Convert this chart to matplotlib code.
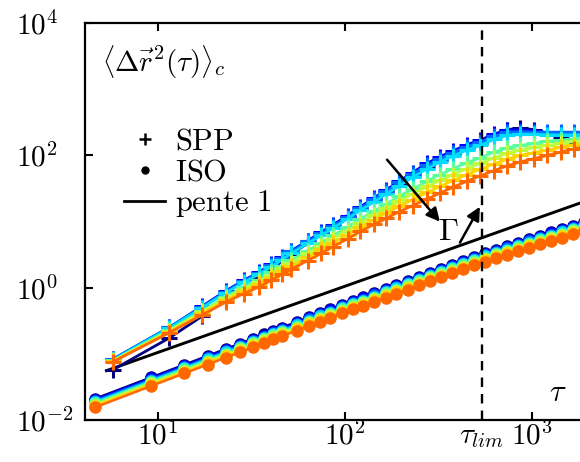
import matplotlib
matplotlib.use('Agg')
import matplotlib.pyplot as plt
import numpy as np
from matplotlib.lines import Line2D
from matplotlib.ticker import NullLocator

plt.rcParams['mathtext.fontset'] = 'cm'
plt.rcParams['font.family'] = ['DejaVu Serif']

# ---------------- data ----------------
tau_spp = [5.75, 11.5, 17.25, 23.0, 28.75, 34.5, 40.25, 46.0, 51.75, 63.25, 74.75,
           86.25, 103.5, 120.75, 143.75, 166.75, 195.5, 230.0, 276.0, 322.0, 379.5,
           448.5, 529.0, 626.75, 736.0, 868.25, 1023.5, 1207.5, 1426.0, 1684.75, 1983.75]

spp_g1 = [0.0575, 0.174, 0.372, 0.661, 1.00, 1.38, 1.91, 2.51, 3.24, 4.68, 6.46, 8.32, 11.5,
          15.1, 20.9, 27.5, 36.3, 49.0, 67.6, 85.1, 105, 129, 151, 204, 245, 257, 245, 214,
          186, 158, 145]
spp_g2 = [0.0832, 0.251, 0.525, 0.891, 1.29, 1.70, 2.24, 2.88, 3.63, 5.13, 6.92, 8.91, 12.3,
          16.6, 22.9, 30.2, 40.7, 55.0, 75.9, 95.5, 117, 145, 170, 209, 240, 245, 234, 219,
          209, 200, 195]
spp_g3 = [0.0832, 0.251, 0.513, 0.871, 1.26, 1.66, 2.19, 2.82, 3.55, 5.01, 6.61, 8.51, 11.7,
          15.8, 21.9, 28.8, 38.9, 52.5, 70.8, 89.1, 110, 135, 158, 195, 224, 229, 224, 224,
          224, 224, 224]
spp_g4 = [0.0813, 0.245, 0.501, 0.832, 1.20, 1.59, 2.04, 2.63, 3.31, 4.68, 6.17, 7.94, 11.0,
          14.8, 20.0, 26.3, 34.7, 46.8, 63.1, 79.4, 97.7, 120, 141, 174, 200, 209, 209, 204,
          204, 204, 204]
spp_g5 = [0.0794, 0.229, 0.447, 0.724, 1.02, 1.32, 1.70, 2.14, 2.63, 3.63, 4.79, 6.17, 8.32,
          11.0, 14.5, 18.6, 24.0, 30.9, 40.7, 51.3, 63.1, 77.6, 91.2, 112, 129, 141, 151, 162,
          170, 178, 186]
spp_g6 = [0.0776, 0.224, 0.437, 0.692, 0.955, 1.23, 1.55, 1.95, 2.40, 3.31, 4.27, 5.50, 7.24,
          9.55, 12.6, 15.8, 20.4, 26.3, 33.9, 41.7, 51.3, 63.1, 75.9, 91.2, 107, 120, 132, 141,
          151, 162, 170]
spp_g7 = [0.0776, 0.214, 0.407, 0.646, 0.891, 1.12, 1.41, 1.78, 2.14, 2.88, 3.80, 4.79, 6.31,
          8.32, 10.7, 13.5, 17.0, 21.4, 27.5, 33.9, 41.7, 51.3, 61.7, 74.1, 87.1, 100, 110, 120,
          132, 145, 155]
spp_g8 = [0.0759, 0.209, 0.389, 0.603, 0.813, 1.02, 1.29, 1.59, 1.91, 2.57, 3.31, 4.17, 5.50,
          7.08, 9.12, 11.2, 14.1, 17.4, 21.9, 26.9, 33.1, 40.7, 49.0, 58.9, 69.2, 79.4, 89.1,
          100, 112, 126, 138]

tau_iso = [4.6, 9.2, 13.8, 18.4, 23.0, 27.6, 32.2, 36.8, 41.4, 46.0, 55.2, 64.4, 73.6, 82.8,
           96.6, 110.4, 124.2, 142.6, 165.6, 188.6, 216.2, 248.4, 285.2, 326.6, 372.6, 427.8,
           492.2, 561.2, 644.0, 736.0, 841.8, 966.0, 1108.6, 1269.6, 1453.6, 1665.2, 1904.4,
           2185.0]

iso_g1 = [0.0209, 0.0441, 0.0682, 0.0930, 0.118, 0.143, 0.170, 0.196, 0.223, 0.250, 0.302,
          0.358, 0.413, 0.470, 0.551, 0.632, 0.713, 0.824, 0.959, 1.10, 1.26, 1.46, 1.69, 1.93,
          2.21, 2.55, 2.94, 3.33, 3.77, 4.24, 4.77, 5.39, 6.09, 6.86, 7.72, 8.69, 9.77, 11.0]
iso_g2 = [0.0202, 0.0425, 0.0657, 0.0896, 0.114, 0.138, 0.164, 0.189, 0.215, 0.241, 0.291,
          0.345, 0.398, 0.452, 0.530, 0.608, 0.686, 0.793, 0.923, 1.06, 1.22, 1.40, 1.63, 1.86,
          2.13, 2.46, 2.83, 3.21, 3.63, 4.08, 4.59, 5.19, 5.86, 6.60, 7.44, 8.37, 9.41, 10.6]
iso_g3 = [0.0194, 0.0409, 0.0631, 0.0861, 0.109, 0.133, 0.158, 0.181, 0.206, 0.231, 0.280,
          0.331, 0.383, 0.435, 0.510, 0.585, 0.660, 0.763, 0.888, 1.02, 1.17, 1.35, 1.56, 1.79,
          2.05, 2.36, 2.73, 3.09, 3.49, 3.93, 4.41, 4.99, 5.64, 6.35, 7.15, 8.05, 9.05, 10.2]
iso_g4 = [0.0186, 0.0392, 0.0606, 0.0827, 0.105, 0.127, 0.151, 0.174, 0.198, 0.222, 0.269,
          0.318, 0.367, 0.418, 0.490, 0.562, 0.634, 0.732, 0.852, 0.976, 1.12, 1.30, 1.50, 1.72,
          1.97, 2.27, 2.62, 2.96, 3.35, 3.77, 4.24, 4.79, 5.41, 6.10, 6.86, 7.73, 8.69, 9.80]
iso_g5 = [0.0178, 0.0376, 0.0581, 0.0792, 0.101, 0.122, 0.145, 0.167, 0.190, 0.213, 0.258,
          0.305, 0.352, 0.400, 0.469, 0.538, 0.607, 0.702, 0.817, 0.935, 1.08, 1.24, 1.44, 1.64,
          1.89, 2.17, 2.51, 2.84, 3.21, 3.61, 4.06, 4.59, 5.19, 5.84, 6.58, 7.41, 8.33, 9.40]
iso_g6 = [0.0171, 0.0360, 0.0556, 0.0758, 0.0963, 0.117, 0.139, 0.160, 0.182, 0.204, 0.246,
          0.292, 0.337, 0.383, 0.449, 0.515, 0.581, 0.671, 0.781, 0.894, 1.03, 1.19, 1.38, 1.57,
          1.80, 2.08, 2.40, 2.72, 3.07, 3.45, 3.88, 4.39, 4.96, 5.59, 6.29, 7.08, 7.96, 8.99]
iso_g7 = [0.0163, 0.0343, 0.0530, 0.0723, 0.0919, 0.111, 0.132, 0.152, 0.173, 0.194, 0.235,
          0.278, 0.321, 0.365, 0.428, 0.491, 0.554, 0.641, 0.746, 0.854, 0.982, 1.13, 1.31, 1.50,
          1.72, 1.98, 2.29, 2.59, 2.93, 3.30, 3.71, 4.19, 4.74, 5.33, 6.01, 6.76, 7.60, 8.58]
iso_g8 = [0.0155, 0.0327, 0.0505, 0.0689, 0.0875, 0.106, 0.126, 0.145, 0.165, 0.185, 0.224,
          0.265, 0.306, 0.348, 0.408, 0.468, 0.528, 0.610, 0.710, 0.813, 0.935, 1.08, 1.25, 1.43,
          1.64, 1.89, 2.18, 2.47, 2.79, 3.14, 3.53, 3.99, 4.51, 5.08, 5.72, 6.44, 7.24, 8.17]

pente_x = [5.3, 2000.0]
pente_y = [0.0557, 21.0]

tau_lim = 540.0

xtick_vals = [10, 100, 1000]
xtick_labels = [r'$10^{1}$', r'$10^{2}$', r'$10^{3}$']
ytick_vals = [1e-2, 1e0, 1e2, 1e4]
ytick_labels = [r'$10^{-2}$', r'$10^{0}$', r'$10^{2}$', r'$10^{4}$']

legend_labels = [r'$\mathrm{SPP}$', r'$\mathrm{ISO}$', r'$\mathrm{pente\ 1}$']

# ---------------- figure ----------------
W, H = 580, 462
fig = plt.figure(figsize=(W / 100, H / 100), dpi=100)
ax = fig.add_axes([85 / W, (H - 420) / H, 503 / W, 397 / H])
ax.set_xscale('log')
ax.set_yscale('log')

colors = plt.cm.jet(np.linspace(0.0, 0.8, 8))

iso_series = [iso_g1, iso_g2, iso_g3, iso_g4, iso_g5, iso_g6, iso_g7, iso_g8]
spp_series = [spp_g1, spp_g2, spp_g3, spp_g4, spp_g5, spp_g6, spp_g7, spp_g8]

for c, ys in zip(colors, iso_series):
    ax.plot(tau_iso, ys, '-', marker='o', color=c, lw=1.8, ms=8, mec=c, mfc=c)

ax.plot(pente_x, pente_y, '-', color='k', lw=2.1)

for c, ys in zip(colors, spp_series):
    ax.plot(tau_spp, ys, '-', marker='+', color=c, lw=2.0, ms=11, mew=2.2)

ax.axvline(tau_lim, color='k', lw=1.7, ls=(0, (4, 3)))

ax.set_xlim(4.07, 1995)
ax.set_ylim(1e-2, 1e4)

ax.set_xticks(xtick_vals)
ax.set_xticklabels(xtick_labels)
ax.set_yticks(ytick_vals)
ax.set_yticklabels(ytick_labels)
ax.xaxis.set_minor_locator(NullLocator())
ax.yaxis.set_minor_locator(NullLocator())
ax.tick_params(which='major', direction='in', length=6, width=1.5,
               top=True, right=True, labelsize=21, colors='k')
ax.tick_params(axis='x', pad=1)
ax.tick_params(axis='y', pad=50)
for lab in ax.get_yticklabels():
    lab.set_horizontalalignment('left')

for s in ax.spines.values():
    s.set_linewidth(1.6)

# labels and annotations
ax.text(0.034, 0.95, r'$\left\langle\Delta\vec{r}^{2}(\tau)\right\rangle_{c}$',
        transform=ax.transAxes, fontsize=21, ha='left', va='top')
ax.text(0.94, 0.07, r'$\tau$', transform=ax.transAxes, fontsize=22,
        ha='center', va='center')
ax.text(tau_lim, -0.058, r'$\tau_{lim}$', transform=ax.get_xaxis_transform(),
        fontsize=21, ha='center', va='baseline', clip_on=False)
ax.text(355, 7.0, r'$\Gamma$', fontsize=23, ha='center', va='center')

arrow_kw = dict(arrowstyle='-|>', color='k', lw=1.8, mutation_scale=20,
                shrinkA=0, shrinkB=0)
ax.annotate('', xy=(322, 9.93), xytext=(168, 85.9), arrowprops=arrow_kw)
ax.annotate('', xy=(527, 16.7), xytext=(412, 4.79), arrowprops=arrow_kw)

handles = [Line2D([], [], ls='none', marker='+', color='k', ms=9, mew=1.8),
           Line2D([], [], ls='none', marker='.', color='k', ms=10),
           Line2D([], [], color='k', lw=2.0)]
ax.legend(handles, legend_labels, loc='upper left', bbox_to_anchor=(0.078, 0.742),
          frameon=False, fontsize=22, handlelength=1.35, handletextpad=0.3,
          labelspacing=0.0, borderpad=0, borderaxespad=0)

fig.savefig('out.png', dpi=100)
